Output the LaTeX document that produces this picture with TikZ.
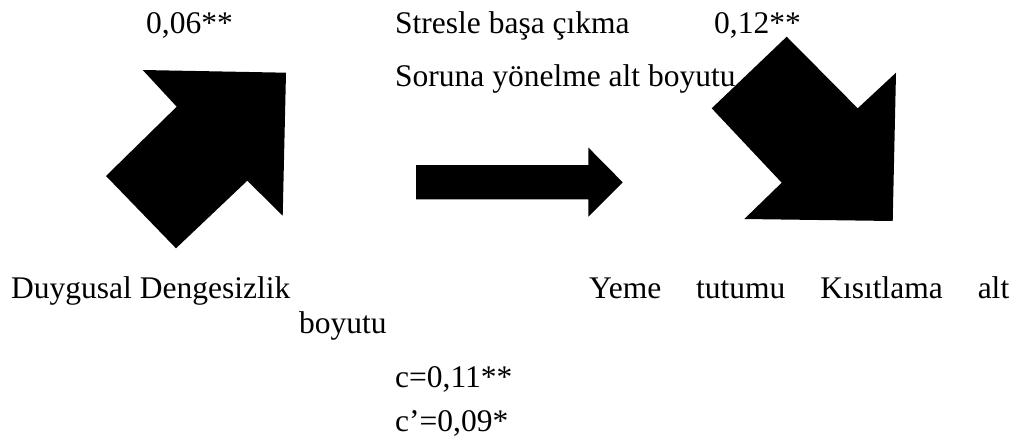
\documentclass[tikz,border=0pt]{standalone}
\usepackage{fontspec}
\setmainfont{Liberation Serif}
\usepackage{tikz}
\usetikzlibrary{positioning}
\tikzstyle{lbl}=[%
      anchor=base west, inner sep=0pt, text=black,
      font=\fontsize{31.5}{36}\selectfont
]
\tikzstyle{blk}=[%
      fill=black, draw=none
]

\begin{document}
\begin{tikzpicture}[x=1pt, y=-1pt]
    \useasboundingbox (0,0) rectangle (1024,447);

    \node[lbl] (ab)   at (146,33)  {0,06**};
    \node[lbl] (med)  at (395,33)  {Stresle başa çıkma};
    \node[lbl] (bc)   at (714,33)  {0,12**};
    \node[lbl] (med2) at (395,86)  {Soruna yönelme alt boyutu};
    \node[lbl] (ind)  at (11,298)  {Duygusal Dengesizlik};
    \node[lbl] (dep)  at (589,298) {\makebox[420pt][s]{Yeme tutumu Kısıtlama alt}};
    \node[lbl] (dep2) at (299,333) {boyutu};
    \node[lbl] (tot)  at (395,387) {c=0,11**};
    \node[lbl] (dir)  at (395,431) {c’=0,09*};

    % block arrows
    \fill[blk] (142.7,70) -- (286,72.7) -- (282.7,215.7) -- (247.3,180.7)
               -- (176,248.3) -- (106,176) -- (176.7,106.7) -- cycle;
    \fill[blk] (416,165) -- (588.3,165) -- (588.3,147.5) -- (622.7,182.3)
               -- (588.3,216.7) -- (588.3,199.3) -- (416,199.3) -- cycle;
    \fill[blk] (786.7,36.7) -- (857.7,108.3) -- (896,72.7) -- (892.7,221)
               -- (744.3,219) -- (781.7,182.7) -- (711.7,108.3) -- cycle;

\end{tikzpicture}
\end{document}
